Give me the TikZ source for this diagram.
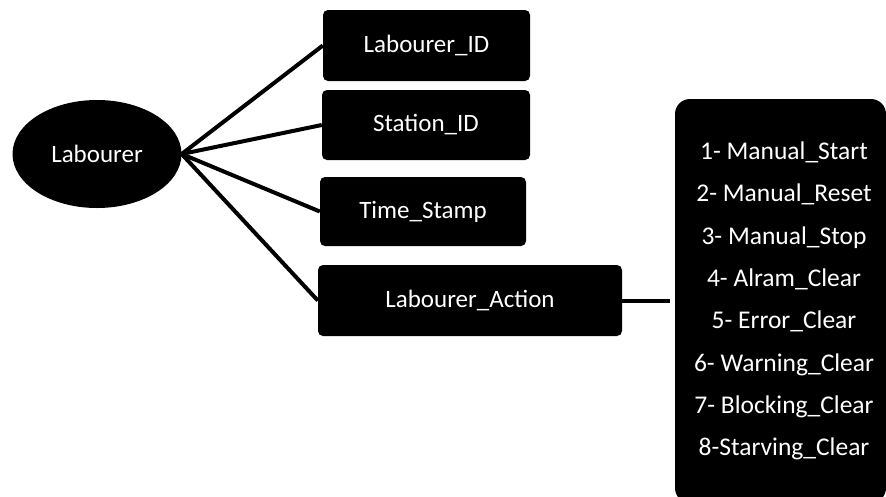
\documentclass[tikz,border=0pt]{standalone}
\usepackage{fontspec}
\setmainfont{Carlito}
\usetikzlibrary{shapes.geometric,calc}
\begin{document}
\begin{tikzpicture}[x=1pt,y=-1pt,
  blk/.style={fill=black,text=white,rounded corners=5pt,inner sep=0pt,
    font=\fontsize{25}{30}\selectfont},
  conn/.style={line width=4pt,black}]
\useasboundingbox (0,0) rectangle (886,496);
\node[ellipse,fill=black,text=white,minimum width=169pt,minimum height=108pt,inner sep=0pt,
  font=\fontsize{25}{30}\selectfont] (lab) at (97,154) {Labourer};
\node[blk,minimum width=207pt,minimum height=71pt] (lid) at (426.5,45.5) {Labourer\_ID};
\node[blk,minimum width=208pt,minimum height=70pt] (sid) at (426,125) {Station\_ID};
\node[blk,minimum width=206pt,minimum height=69pt] (ts) at (423,211.5) {Time\_Stamp};
\node[blk,minimum width=304pt,minimum height=71pt] (la) at (470,300.5) {Labourer\_Action};
\begin{scope}
\clip (0,0) rectangle (886,496);
\node[blk,rounded corners=15pt,minimum width=211pt,minimum height=404pt,align=center,
  font=\fontsize{25.5}{42.3}\selectfont] (acts) at (780.5,301)
  {\hspace*{7pt}1- Manual\_Start\\ \hspace*{7pt}2- Manual\_Reset\\ \hspace*{7pt}3- Manual\_Stop\\ \hspace*{7pt}4- Alram\_Clear\\ \hspace*{7pt}5- Error\_Clear\\ \hspace*{7pt}6- Warning\_Clear\\ \hspace*{7pt}7- Blocking\_Clear\\ \hspace*{7pt}8-Starving\_Clear};
\end{scope}
\coordinate (actsin) at ([xshift=-5pt]la.east -| acts.west);
\draw[conn] (lab.east) -- (lid.west);
\draw[conn] (lab.east) -- (sid.west);
\draw[conn] (lab.east) -- (ts.west);
\draw[conn] (lab.east) -- (la.west);
\draw[conn] (la.east) -- (actsin);
\end{tikzpicture}
\end{document}
